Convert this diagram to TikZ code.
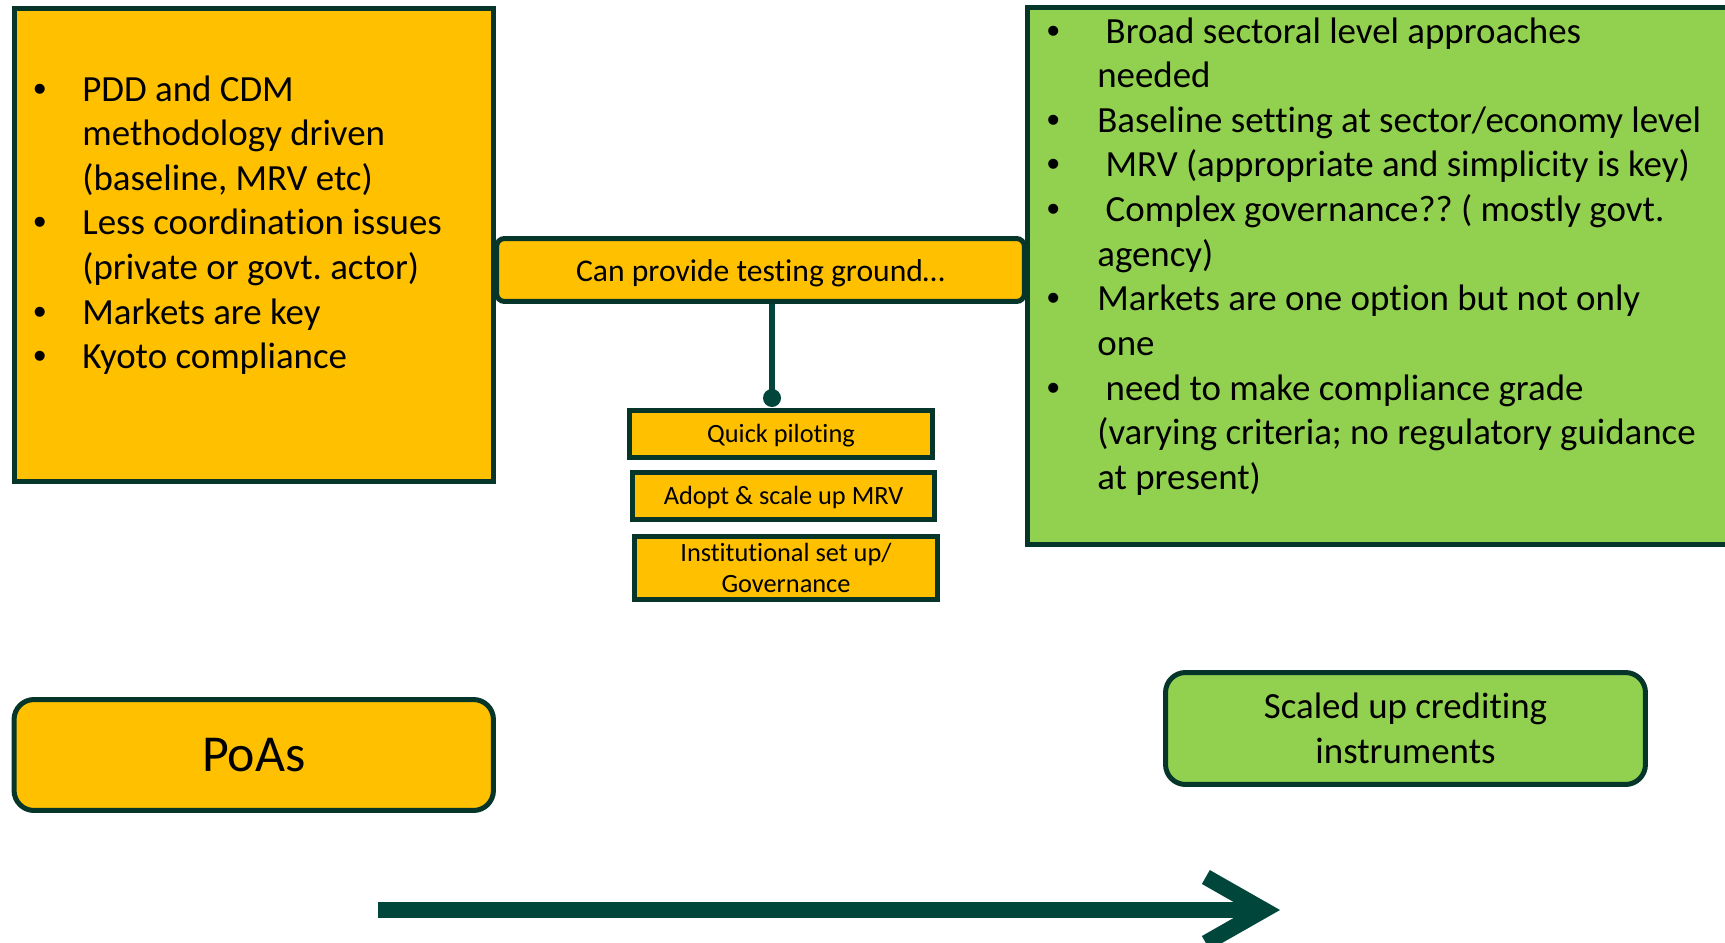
\documentclass[tikz,border=0pt]{standalone}
\usepackage{fontspec}
\setmainfont{Carlito}[Ligatures=NoCommon]
\newfontfamily\dotfont{Liberation Sans}
\usetikzlibrary{arrows.meta,positioning}
\definecolor{poagold}{HTML}{FFC000}
\definecolor{scalegreen}{HTML}{92D050}
\definecolor{edgeink}{HTML}{06352A}
\definecolor{arrowink}{HTML}{00463A}
\newcommand{\pbul}{{\dotfont\textbullet}}
\frenchspacing

\tikzset{
  panel/.style={draw=edgeink, line width=0.1cm, inner sep=0pt},
  bulletlist/.style={anchor=base west, inner sep=0pt, font=\fontsize{21}{25.4}\selectfont},
  subbox/.style={panel, fill=poagold, minimum width=6.06cm, minimum height=0.94cm,
    align=center, font=\fontsize{15}{17.6}\selectfont}
}

\begin{document}
\begin{tikzpicture}[x=0.02cm, y=-0.02cm]
  \useasboundingbox (0,0) rectangle (1725,943);
  \clip (0,0) rectangle (1725,943);

  % two big panels
  \node[panel, fill=poagold, minimum width=9.6cm, minimum height=9.46cm] (pdd) at (254,245) {};
  \node[panel, fill=scalegreen, minimum width=14.65cm, minimum height=10.75cm] (sector) at (1393.75,276.25) {};

  \node[bulletlist] (pddtext) at (33,101) {\begin{tabular}[t]{@{}p{0.98cm}@{}l@{}}
    \pbul & PDD and CDM\\
          & methodology driven\\
          & (baseline, MRV etc)\\
    \pbul & Less coordination issues\\
          & (private or govt. actor)\\
    \pbul & Markets are key\\
    \pbul & Kyoto compliance
  \end{tabular}};

  \node[bulletlist] (sectortext) at (1046.5,43) {\begin{tabular}[t]{@{}p{1.01cm}@{}l@{}}
    \pbul & \ Broad sectoral level approaches\\
          & needed\\
    \pbul & Baseline setting at sector/economy level\\
    \pbul & \ MRV (appropriate and simplicity is key)\\
    \pbul & \ Complex governance?? ( mostly govt.\\
          & agency)\\
    \pbul & Markets are one option but not only\\
          & one\\
    \pbul & \ need to make compliance grade\\
          & (varying criteria; no regulatory guidance\\
          & at present)
  \end{tabular}};

  % middle bridge and its three steps
  \node[panel, fill=poagold, rounded corners=0.16cm, minimum width=10.56cm, minimum height=1.26cm,
    text height=13.6pt, text depth=0pt, font=\fontsize{18}{21.6}\selectfont] (ground) at (760.5,270) {Can provide testing ground\ldots};

  \node[subbox, text height=10pt, text depth=0pt] (pilot) at (781,434) {Quick piloting};
  \node[subbox, below=0.2cm of pilot, xshift=0.05cm, text height=10pt, text depth=0pt] (mrv) {Adopt \& scale up MRV};
  \node[subbox, below=0.24cm of mrv, xshift=0.05cm, minimum height=1.26cm] (govern) {Institutional set up/\\Governance};

  \coordinate (pin) at (772,398);
  \draw[arrowink, line width=0.12cm] (ground.south -| pin) -- (pin);
  \fill[arrowink] (pin) circle (9);

  % bottom labels
  \node[panel, fill=poagold, rounded corners=0.4cm, minimum width=9.59cm, minimum height=2.22cm,
    font=\fontsize{29.5}{35}\selectfont] (poa) at (253.75,755) {PoAs};
  \node[panel, fill=scalegreen, rounded corners=0.4cm, minimum width=9.6cm, minimum height=2.24cm,
    align=center, font=\fontsize{21}{25.6}\selectfont] (scaled) at (1405.5,728.5) {Scaled up crediting\\instruments};

  \coordinate (start) at (378,910);
  \coordinate (finish) at (1280,910);
  \draw[arrowink, line width=0.32cm, -{Straight Barb[length=1.16cm,width=1.32cm]}] (start) -- (finish);
\end{tikzpicture}
\end{document}
